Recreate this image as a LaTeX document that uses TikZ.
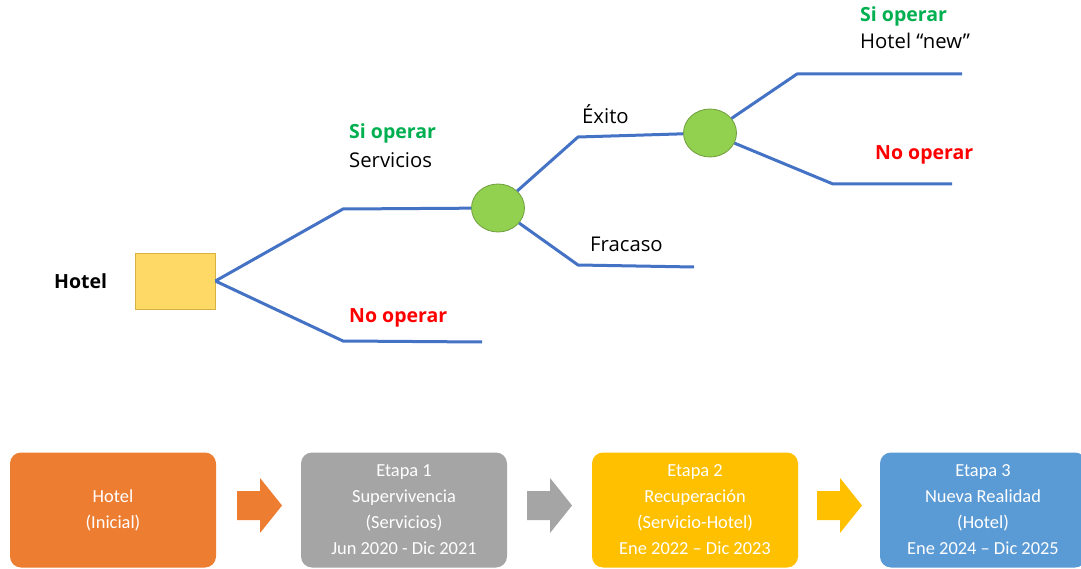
\documentclass[tikz,border=0pt]{standalone}
\usepackage{fontspec}
\setmainfont{Carlito}
\newfontfamily\treefont{Open Sans}
\usetikzlibrary{shapes.geometric}
\definecolor{branch}{HTML}{4472C4}
\definecolor{chance}{HTML}{92D050}
\definecolor{chanceedge}{HTML}{6F9E3E}
\definecolor{decision}{HTML}{FFD966}
\definecolor{decisionedge}{HTML}{D6B243}
\definecolor{yesgreen}{HTML}{00B050}
\definecolor{nored}{HTML}{FF0000}
\definecolor{stage0}{HTML}{ED7D31}
\definecolor{stage1}{HTML}{A5A5A5}
\definecolor{stage2}{HTML}{FFC000}
\definecolor{stage3}{HTML}{5B9BD5}
\tikzset{
  x=1pt, y=-1pt,
  line/.style={draw=branch, line width=3pt, line join=round},
  chancenode/.style={ellipse, fill=chance, draw=chanceedge, line width=0.8pt,
    minimum width=53pt, minimum height=48pt, inner sep=0pt},
  lbl/.style={anchor=west, inner sep=0pt, font=\treefont\fontsize{20.3}{24}\selectfont},
  lblb/.style={lbl, font=\treefont\fontsize{19.5}{24}\selectfont\bfseries},
  stagebox/.style={rounded corners=11pt, minimum width=206pt, minimum height=115pt,
    inner sep=0pt, text=white, align=center,
    font=\fontsize{18.4}{26}\selectfont},
}
\newcommand{\blockarrow}[3]{%
  \fill[#3] (#1,#2+13) -- (#1+23,#2+13) -- (#1+23,#2) -- (#1+45,#2+27.5)
    -- (#1+23,#2+55) -- (#1+23,#2+42) -- (#1,#2+42) -- cycle;}
\begin{document}
\begin{tikzpicture}
\useasboundingbox (0,0) rectangle (1081,569);
\fill[white] (0,0) rectangle (1081,569);

% decision tree
\node[draw=decisionedge, fill=decision, line width=0.8pt, minimum width=80pt,
  minimum height=56pt, inner sep=0pt] (sq) at (175,281) {};
\node[lblb] (hotel) at (54,281) {Hotel};
\node[chancenode] (c1) at (498,208) {};
\node[chancenode] (c2) at (710,133) {};

\coordinate (e1) at (482,342);
\coordinate (e2) at (694,267);
\coordinate (e3) at (962,74);
\coordinate (e4) at (952,184);

\draw[line] (sq.east) -- (343,209) -- (c1);
\draw[line] (sq.east) -- (343,341) -- (e1);
\draw[line] (c1) -- (578,137) -- (c2);
\draw[line] (c1) -- (578,265) -- (e2);
\draw[line] (c2) -- (797,74) -- (e3);
\draw[line] (c2) -- (833,184) -- (e4);

\node[lblb, text=yesgreen] (si1) at (349,133) {Si operar};
\node[lbl] (serv) at (349,160) {Servicios};
\node[lblb, text=nored] (no1) at (349,318) {No operar};
\node[lbl] (exito) at (582,114) {Éxito};
\node[lbl] (fracaso) at (590,244) {Fracaso};
\node[lblb, text=yesgreen] (si2) at (860,16) {Si operar};
\node[lbl] (new) at (860,41) {Hotel “new”};
\node[lblb, text=nored] (no2) at (875,155) {No operar};

% stages
\node[stagebox, fill=stage0] (s0) at (113,510) {Hotel\\(Inicial)};
\node[stagebox, fill=stage1] (s1) at (404,510)
  {Etapa 1\\Supervivencia\\(Servicios)\\Jun 2020 - Dic 2021};
\node[stagebox, fill=stage2] (s2) at (695,510)
  {Etapa 2\\Recuperación\\(Servicio-Hotel)\\Ene 2022 – Dic 2023};
\node[stagebox, fill=stage3] (s3) at (983,510)
  {Etapa 3\\Nueva Realidad\\(Hotel)\\Ene 2024 – Dic 2025};

\blockarrow{237}{478}{stage0}
\blockarrow{527}{478}{stage1}
\blockarrow{817}{478}{stage2}
\end{tikzpicture}
\end{document}
